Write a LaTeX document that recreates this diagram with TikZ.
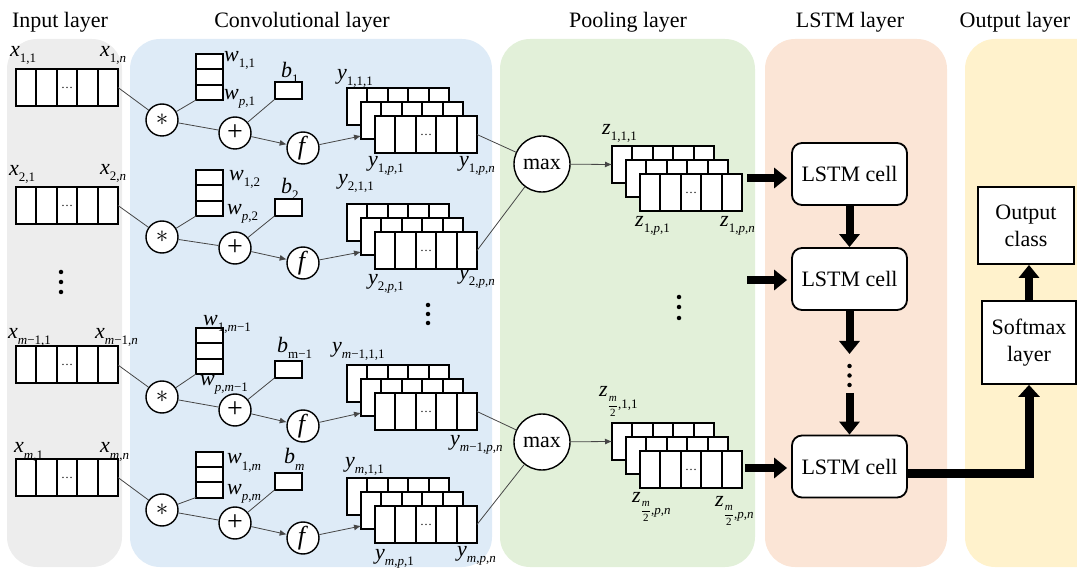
\documentclass[tikz,border=0pt]{standalone}
\usepackage{amsmath}
\usepackage{fontspec}
\setmainfont{Liberation Serif}
\usetikzlibrary{arrows.meta}
\definecolor{bggray}{RGB}{237,237,237}
\definecolor{bgblue}{RGB}{222,235,247}
\definecolor{bggreen}{RGB}{226,240,217}
\definecolor{bgpeach}{RGB}{251,229,214}
\definecolor{bgyellow}{RGB}{255,242,204}
\definecolor{connc}{RGB}{70,70,70}
\newcommand\sbl[2]{\textit{#1}\raisebox{-6pt}{\fontsize{13}{13}\selectfont #2}}
\newcommand\zfl[1]{\textit{z}\raisebox{-12pt}{\fontsize{11}{11}\selectfont$\displaystyle\frac{\textit{m}}{\textup{2}}$}\raisebox{-12pt}{\fontsize{13}{13}\selectfont #1}}
\newcommand\mkarr[4]{%
  \node[arrbox] (#1) at (#2,#3) {};
  \foreach \k in {1,2,3,4}{\draw[boxline] ([xshift=\k*20.4pt]#1.north west) -- ([xshift=\k*20.4pt]#1.south west);}
  \ifnum#4=1 \node[ell] (#1-d) at (#1.center) {\ldots};\fi
}
\newcommand\mkstk[3]{%
  \mkarr{#1-b}{#2+51}{#3+18.5}{0}
  \mkarr{#1-m}{#2+65}{#3+32.5}{0}
  \mkarr{#1-f}{#2+79}{#3+46.5}{1}
}
\newcommand\mkwcol[3]{%
  \node[wbox] (#1) at (#2,#3) {};
  \draw[boxline] ([yshift=-15.33pt]#1.north west) -- ([yshift=-15.33pt]#1.north east);
  \draw[boxline] ([yshift=15.33pt]#1.south west) -- ([yshift=15.33pt]#1.south east);
}
\newcommand\convrow[8]{%
  \mkarr{in#1}{67}{#2}{1}
  \mkwcol{w#1}{209.5}{#4}
  \node[bbox] (b#1) at (288,#5) {};
  \node[opc,font=\fontsize{30}{30}\selectfont] (s#1) at (162,#3) {$\ast$};
  \node[opc,font=\fontsize{28}{28}\selectfont] (p#1) at (235,#6) {+};
  \node[opc,font=\fontsize{26}{26}\selectfont] (f#1) at (303,#7) {\textit{f}};
  \mkstk{y#1}{347}{#8}
  \draw[conn] (in#1.east) -- (s#1);
  \draw[conn] (w#1.south west) -- (s#1);
  \draw[conn] (s#1) -- (p#1);
  \draw[conn] (b#1.south west) -- (p#1);
  \draw[conn,sarr] (p#1) -- (f#1);
  \draw[conn,sarr] (f#1) -- ([yshift=3pt]y#1-m.south west);
}
\newcommand\vdts[5]{%
  \node[vdotn] (#1a) at (#2,#3) {};
  \node[vdotn] (#1b) at (#2,#4) {};
  \node[vdotn] (#1c) at (#2,#5) {};
}
\tikzset{
  every node/.style={font=\fontsize{22}{27}\selectfont},
  arrbox/.style={draw, line width=2pt, fill=white, minimum width=102pt, minimum height=37pt, inner sep=0pt, outer sep=0pt},
  wbox/.style={draw, line width=2pt, fill=white, minimum width=27pt, minimum height=46pt, inner sep=0pt, outer sep=0pt},
  bbox/.style={draw, line width=2pt, fill=white, minimum width=27pt, minimum height=17pt, inner sep=0pt, outer sep=0pt},
  boxline/.style={line width=2pt},
  opc/.style={draw, circle, line width=1.4pt, fill=white, minimum size=32pt, inner sep=0pt},
  maxc/.style={draw, circle, line width=1.4pt, fill=white, minimum size=56pt, inner sep=0pt},
  conn/.style={draw=connc, line width=0.8pt},
  sarr/.style={-{Latex[length=7pt,width=6pt]}},
  lbl/.style={anchor=base west, inner sep=0pt},
  ell/.style={font=\fontsize{12}{12}\selectfont, inner sep=0pt},
  vdotn/.style={circle, fill=black, minimum size=4.5pt, inner sep=0pt},
  lstmc/.style={draw, line width=1.8pt, rounded corners=10pt, fill=white, minimum width=115pt, minimum height=62pt},
  obox/.style={draw, line width=1.8pt, fill=white, align=center, inner sep=0pt},
  fat/.style={line width=8pt, -{Triangle[width=20pt,length=13pt]}},
  layerbg/.style={rounded corners=30pt},
  ttl/.style={anchor=base},
}
\begin{document}
\begin{tikzpicture}[x=1pt,y=-1pt]
\useasboundingbox (0,0) rectangle (1077,569);
% layer backgrounds
\fill[bggray,layerbg] (7,39) rectangle (122,567);
\fill[bgblue,layerbg] (130,39) rectangle (492,567);
\fill[bggreen,layerbg] (500,39) rectangle (755,567);
\fill[bgpeach,layerbg] (765,39) rectangle (947,567);
\fill[bgyellow,layerbg] (965,39) rectangle (1110,567);
% titles
\node[ttl] (t1) at (60,28) {Input layer};
\node[ttl] (t2) at (302,28) {Convolutional layer};
\node[ttl] (t3) at (628,28) {Pooling layer};
\node[ttl] (t4) at (850,28) {LSTM layer};
\node[ttl] (t5) at (1015,28) {Output layer};
% convolution rows
\convrow{1}{87.5}{120}{77}{91}{133}{148}{88}
\convrow{2}{205.5}{237}{193}{207.5}{248}{263}{204}
\convrow{3}{365}{397}{351}{369.5}{410}{426}{365}
\convrow{4}{477.5}{510}{474.5}{481.5}{523}{538}{478}
% row labels
\node[lbl] (lx11) at (10,57) {\sbl{x}{1,1}};
\node[lbl] (lx1n) at (100,57) {\sbl{x}{1,\textit{n}}};
\node[lbl] (lw11) at (224,62) {\sbl{w}{1,1}};
\node[lbl] (lwp1) at (224,100) {\sbl{w}{\textit{p},1}};
\node[lbl] (lb1) at (281,78) {\sbl{b}{1}};
\node[lbl] (ly111) at (337,80) {\sbl{y}{1,1,1}};
\node[lbl] (ly1p1) at (368,167) {\sbl{y}{1,\textit{p},1}};
\node[lbl] (ly1pn) at (459,167) {\sbl{y}{1,\textit{p},\textit{n}}};
\node[lbl] (lx21) at (9,176) {\sbl{x}{2,1}};
\node[lbl] (lx2n) at (100,175) {\sbl{x}{2,\textit{n}}};
\node[lbl] (lw12) at (229,181) {\sbl{w}{1,2}};
\node[lbl] (lwp2) at (227,215) {\sbl{w}{\textit{p},2}};
\node[lbl] (lb2) at (281,194) {\sbl{b}{2}};
\node[lbl] (ly211) at (338,185) {\sbl{y}{2,1,1}};
\node[lbl] (ly2p1) at (368,285) {\sbl{y}{2,\textit{p},1}};
\node[lbl] (ly2pn) at (459,280) {\sbl{y}{2,\textit{p},\textit{n}}};
\node[lbl] (lx31) at (8,339) {\sbl{x}{\textit{m}−1,1}};
\node[lbl] (lx3n) at (95,339) {\sbl{x}{\textit{m}−1,\textit{n}}};
\node[lbl] (lw13) at (203,326) {\sbl{w}{1,\textit{m}−1}};
\node[lbl] (lwp3) at (200,385) {\sbl{w}{\textit{p},\textit{m}−1}};
\node[lbl] (lb3) at (277,353) {\sbl{b}{m−1}};
\node[lbl] (ly311) at (332,353) {\sbl{y}{\textit{m}−1,1,1}};
\node[lbl] (ly3pn) at (450,445) {\sbl{y}{\textit{m}−1,\textit{p},\textit{n}}};
\node[lbl] (lx41) at (14,453) {\sbl{x}{\textit{m},1}};
\node[lbl] (lx4n) at (100,453) {\sbl{x}{\textit{m},\textit{n}}};
\node[lbl] (lw14) at (227,464) {\sbl{w}{1,\textit{m}}};
\node[lbl] (lwp4) at (227,494) {\sbl{w}{\textit{p},\textit{m}}};
\node[lbl] (lb4) at (284,464) {\sbl{b}{\textit{m}}};
\node[lbl] (ly411) at (345,467) {\sbl{y}{\textit{m},1,1}};
\node[lbl] (ly4p1) at (375,559) {\sbl{y}{\textit{m},\textit{p},1}};
\node[lbl] (ly4pn) at (457,556) {\sbl{y}{\textit{m},\textit{p},\textit{n}}};
% dots
\vdts{di}{61}{272}{282}{292}
\vdts{dc}{428}{305}{314}{323}
\vdts{dp}{679}{297}{307}{318}
\vdts{dl}{849.5}{366}{375.5}{385}
% pooling
\node[maxc] (mx1) at (542,164) {max};
\node[maxc] (mx2) at (542,442) {max};
\mkstk{z1}{612}{146}
\mkstk{z2}{612}{423}
\draw[conn] (y1-f.east) -- (mx1);
\draw[conn] (y2-f.east) -- (mx1);
\draw[conn] (y3-f.east) -- (mx2);
\draw[conn] (y4-f.east) -- (mx2);
\draw[conn,sarr] (mx1) -- (z1-b.west);
\draw[conn,sarr] (mx2) -- (z2-b.west);
\node[lbl] (lz111) at (602,135) {\sbl{z}{1,1,1}};
\node[lbl] (lz1p1) at (635,227) {\sbl{z}{1,\textit{p},1}};
\node[lbl] (lz1pn) at (720,227) {\sbl{z}{1,\textit{p},\textit{n}}};
\node[lbl] (lz211) at (599,397) {\zfl{,1,1}};
\node[lbl] (lz2a) at (632,502) {\zfl{,\textit{p},\textit{n}}};
\node[lbl] (lz2b) at (715,506) {\zfl{,\textit{p},\textit{n}}};
% LSTM
\node[lstmc] (c1) at (849.5,174) {LSTM cell};
\node[lstmc] (c2) at (849.5,279) {LSTM cell};
\node[lstmc] (c3) at (849.5,466.5) {LSTM cell};
\coordinate (h1) at (747,178);
\coordinate (h2) at (747,280);
\coordinate (h3) at (745,468);
\draw[fat,shorten >=4pt] (h1) -- (h1 -| c1.west);
\draw[fat,shorten >=4pt] (h2) -- (h2 -| c2.west);
\draw[fat,shorten >=4pt] (h3) -- (h3 -| c3.west);
\draw[fat] (c1.south) -- (c2.north);
\coordinate (v2e) at (849.5,354);
\coordinate (v3s) at (849.5,393);
\draw[fat] (c2.south) -- (v2e);
\draw[fat] (v3s) -- (c3.north);
% output
\node[obox,minimum width=94pt,minimum height=83pt] (sm) at (1029,342.5) {Softmax\\layer};
\node[obox,minimum width=96pt,minimum height=77pt] (oc) at (1026,225.5) {Output\\class};
\draw[line width=9pt,line join=miter,-{Triangle[width=21pt,length=12pt]}] ([yshift=-7pt]c3.east) -| (sm.south);
\draw[fat] (sm.north) -- (sm.north |- oc.south);
\end{tikzpicture}
\end{document}
